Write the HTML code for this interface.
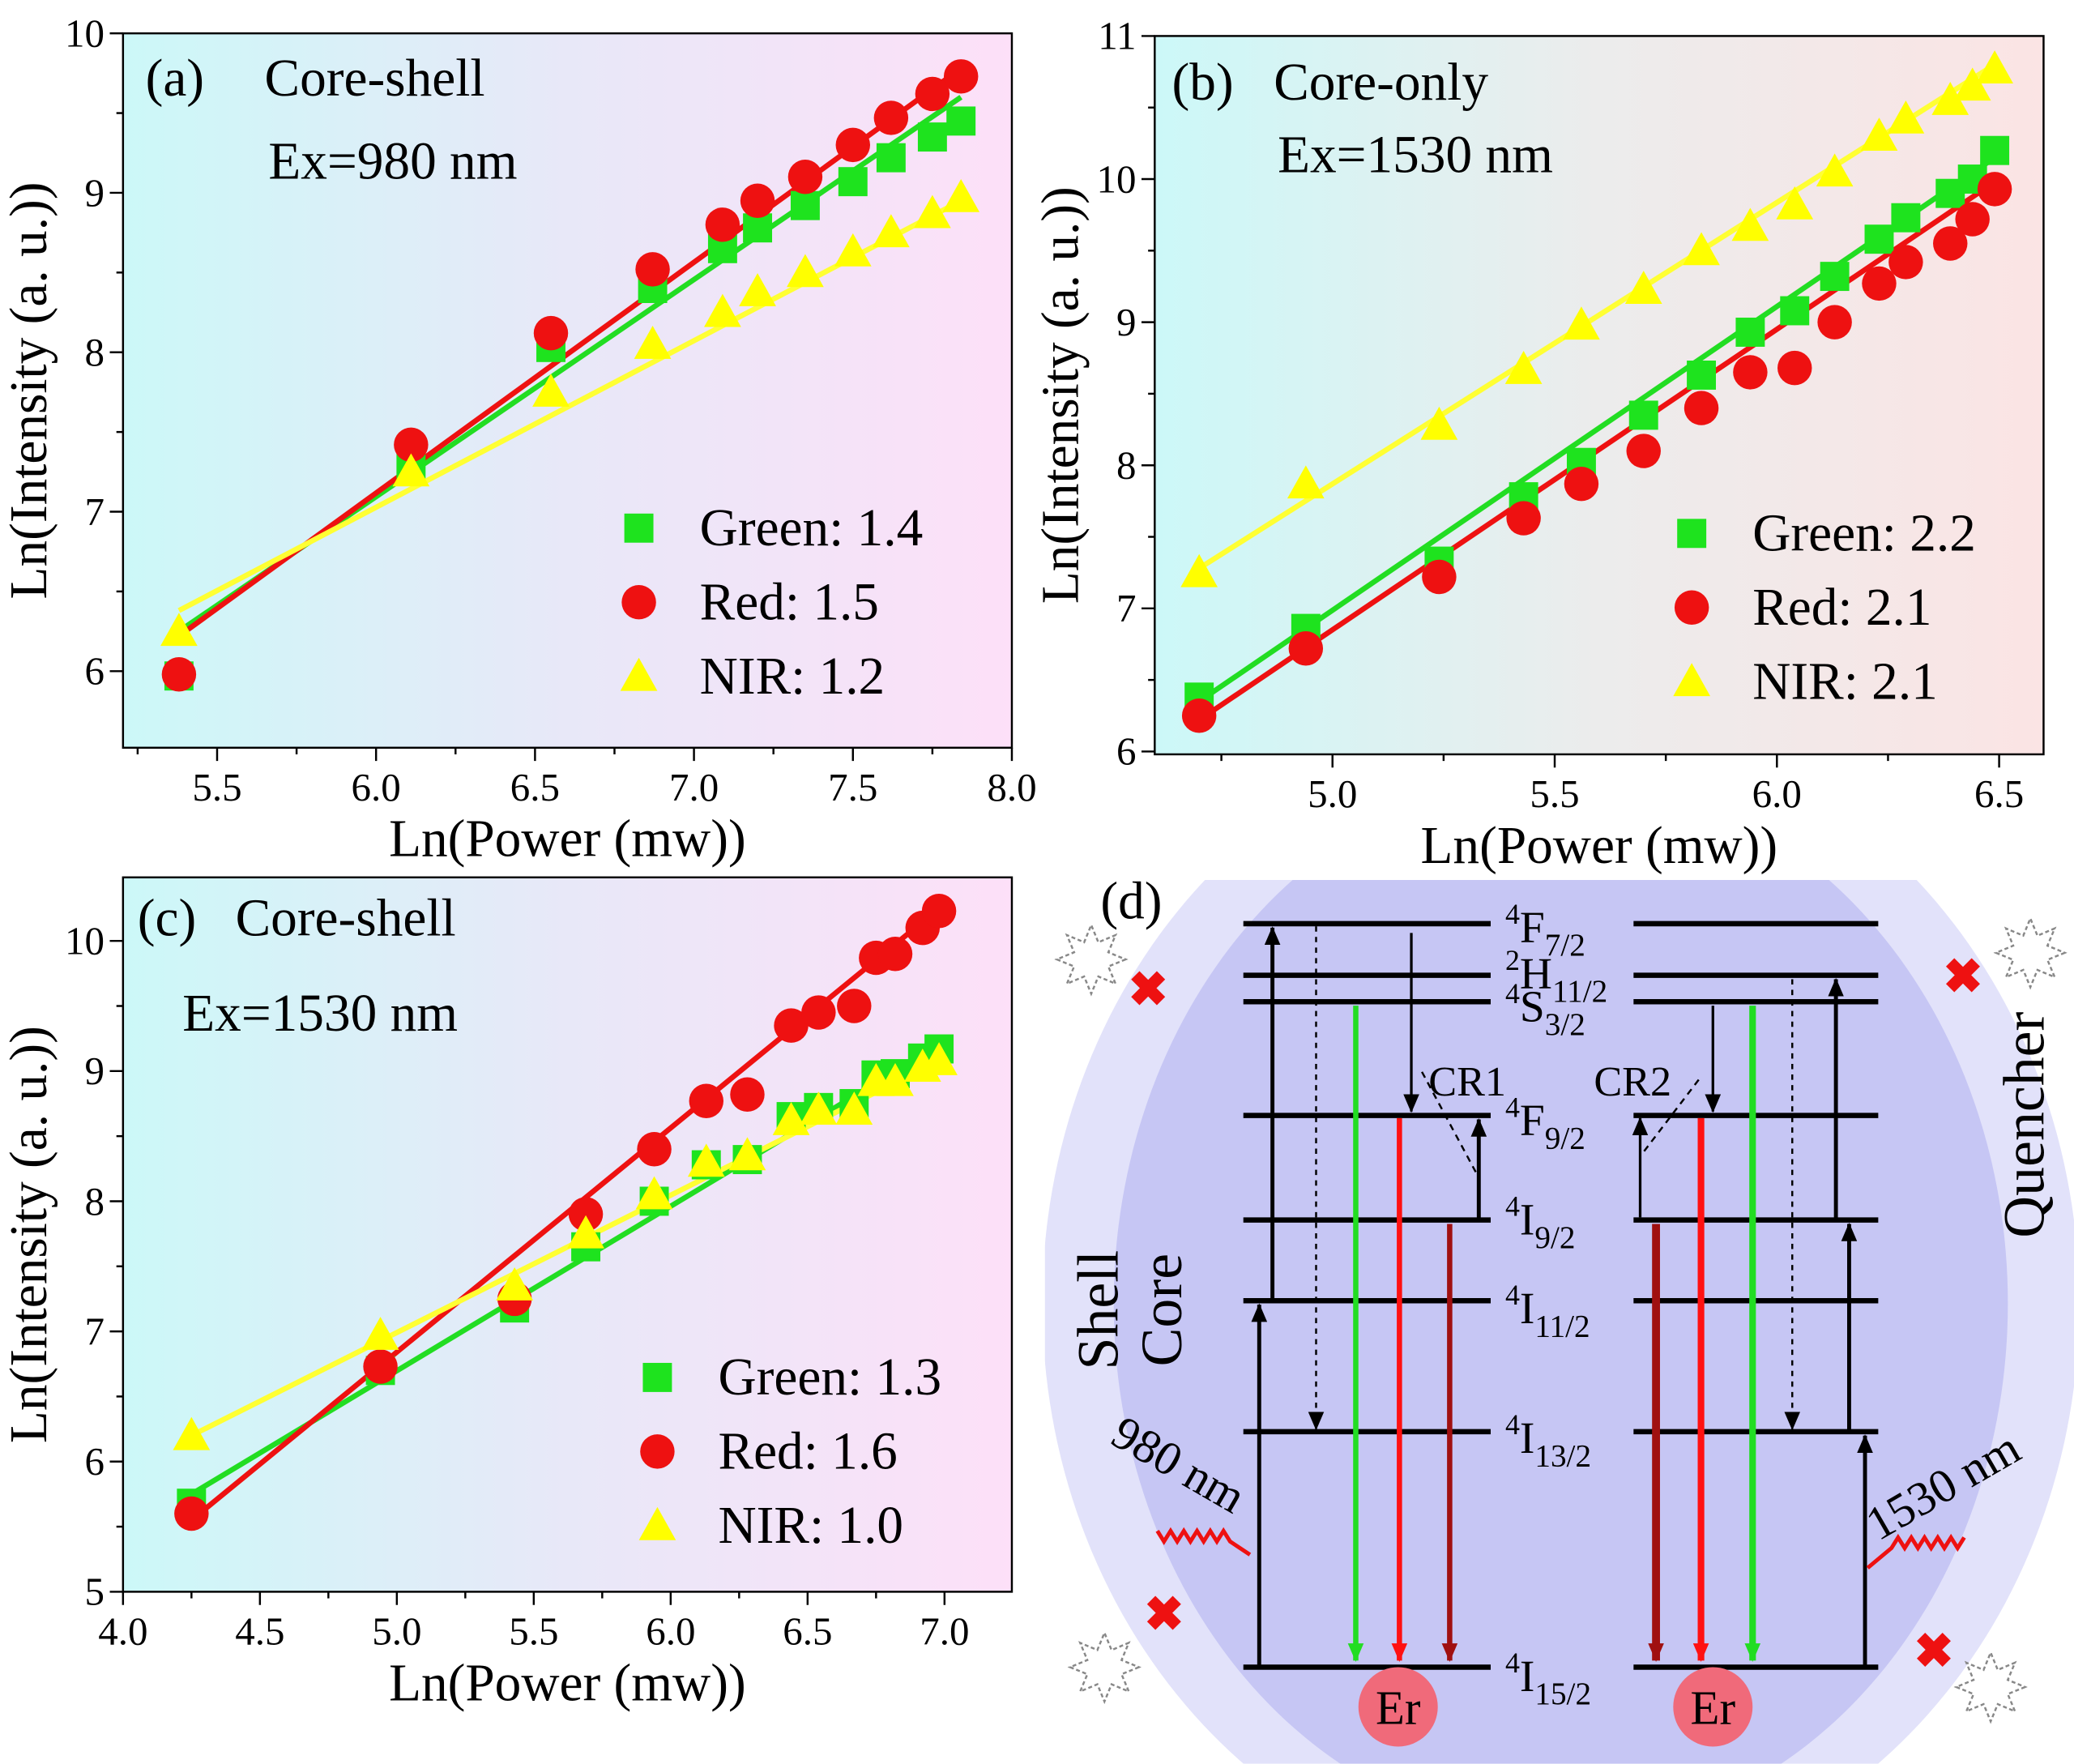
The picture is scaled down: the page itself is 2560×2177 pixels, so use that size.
<!DOCTYPE html>
<html><head><meta charset="utf-8">
<style>
html,body{margin:0;padding:0;background:#fff;width:2560px;height:2177px;overflow:hidden;}
svg{display:block;font-family:"Liberation Serif",serif;}
text{font-family:"Liberation Serif",serif;}
</style></head>
<body>
<svg id="fig" width="2560" height="2177" viewBox="0 0 1568 1333" font-family="Liberation Serif, serif" xmlns="http://www.w3.org/2000/svg" style="width:2560px;height:2177px;">
<defs>
<linearGradient id="gA" x1="0" x2="1" y1="0" y2="0"><stop offset="0" stop-color="#ccf8f8"/><stop offset="0.5" stop-color="#e8e8f8"/><stop offset="1" stop-color="#fde0f8"/></linearGradient>
<linearGradient id="gB" x1="0" x2="1" y1="0" y2="0"><stop offset="0" stop-color="#ccf8f8"/><stop offset="0.5" stop-color="#ececec"/><stop offset="1" stop-color="#fbe4e4"/></linearGradient>
<clipPath id="clipD"><rect x="790" y="665" width="778" height="668"/></clipPath>
<marker id="ah" markerUnits="userSpaceOnUse" markerWidth="14" markerHeight="12" refX="13" refY="6" orient="auto"><path d="M0,0 L14,6 L0,12 z" fill="context-stroke"/></marker>
</defs>
<g id="charts"></g>
<g id="diagram"></g>
</svg>
<script>
// ---------- data ----------
const aX=[5.38,6.11,6.55,6.87,7.09,7.20,7.35,7.50,7.62,7.75,7.84];
const aRed=[5.98,7.42,8.12,8.52,8.80,8.95,9.10,9.30,9.47,9.62,9.73];
const aGreen=[5.97,7.30,8.03,8.40,8.65,8.78,8.92,9.07,9.22,9.35,9.45];
const aNIR=[6.25,7.25,7.75,8.05,8.25,8.38,8.50,8.63,8.75,8.87,8.97];
const aFitX=[5.38,7.84];
const aFitRed=[6.22,9.78];
const aFitGreen=[6.25,9.60];
const aFitNIR=[6.38,8.95];
const aXTicks=[5.5,6.0,6.5,7.0,7.5,8.0];
const aYTicks=[6,7,8,9,10];

const bX=[4.70,4.94,5.24,5.43,5.56,5.70,5.83,5.94,6.04,6.13,6.23,6.29,6.39,6.44,6.49];
const bGreen=[6.38,6.86,7.33,7.78,8.02,8.35,8.63,8.93,9.08,9.32,9.58,9.73,9.90,10.00,10.20];
const bRed=[6.25,6.72,7.22,7.63,7.87,8.10,8.40,8.65,8.68,9.00,9.27,9.42,9.55,9.72,9.93];
const bNIR=[7.25,7.87,8.28,8.67,8.98,9.23,9.50,9.67,9.82,10.05,10.30,10.42,10.55,10.65,10.77];
const bFitX=[4.70,6.49];
const bFitGreen=[6.35,10.15];
const bFitRed=[6.22,9.98];
const bFitNIR=[7.28,10.80];
const bXTicks=[5.0,5.5,6.0,6.5];
const bYTicks=[6,7,8,9,10,11];

const cX=[4.25,4.94,5.43,5.69,5.94,6.13,6.28,6.44,6.54,6.67,6.75,6.82,6.92,6.98];
const cRed=[5.60,6.73,7.25,7.90,8.40,8.77,8.82,9.35,9.45,9.50,9.87,9.90,10.10,10.23];
const cGreen=[5.68,6.70,7.18,7.65,8.00,8.28,8.32,8.65,8.72,8.75,8.97,8.98,9.10,9.17];
const cNIR=[6.20,6.97,7.35,7.75,8.05,8.30,8.35,8.62,8.70,8.70,8.92,8.92,9.03,9.08];
const cFitX=[4.25,6.98];
const cFitRed=[5.55,10.25];
const cFitGreen=[5.75,9.20];
const cFitNIR=[6.20,9.08];
const cXTicks=[4.0,4.5,5.0,5.5,6.0,6.5,7.0];
const cYTicks=[5,6,7,8,9,10];

const NS="http://www.w3.org/2000/svg";
function mk(parent,tag,attrs,text){const e=document.createElementNS(NS,tag);for(const k in attrs)e.setAttribute(k,attrs[k]);if(text!==undefined)e.textContent=text;parent.appendChild(e);return e;}
const charts=document.getElementById('charts');

function panel(id,box,xr,yr,xT,yT,xDec,grad,series,fits,legend,titles){
  const g=mk(charts,'g',{});
  
  
  const [L,T,R,B]=box;
  const sx=v=>L+(v-xr[0])/(xr[1]-xr[0])*(R-L);
  const sy=v=>B-(v-yr[0])/(yr[1]-yr[0])*(B-T);
  const bg=mk(g,'rect',{x:L,y:T,width:R-L,height:B-T,fill:grad});
  
  
  xT.forEach(v=>{const x=sx(v);
    mk(g,'line',{x1:x,x2:x,y1:B,y2:B+10,stroke:'#000','stroke-width':1.5});
    const t=mk(g,'text',{x:x,y:B+40,'font-size':30,'text-anchor':'middle'},v.toFixed(xDec));
    
    
  });
  for(let i=0;i<xT.length-1;i++){const x=sx((xT[i]+xT[i+1])/2);mk(g,'line',{x1:x,x2:x,y1:B,y2:B+5,stroke:'#000','stroke-width':1.5});}
  {const x=sx(xT[0]-(xT[1]-xT[0])/2); if(x>L) mk(g,'line',{x1:x,x2:x,y1:B,y2:B+5,stroke:'#000','stroke-width':1.5});}
  yT.forEach(v=>{const y=sy(v);
    mk(g,'line',{x1:L-10,x2:L,y1:y,y2:y,stroke:'#000','stroke-width':1.5});
    const t=mk(g,'text',{x:L-14,y:y+10,'font-size':30,'text-anchor':'end'},String(v));
    
    
  });
  for(let i=0;i<yT.length-1;i++){const y=sy((yT[i]+yT[i+1])/2);mk(g,'line',{x1:L-5,x2:L,y1:y,y2:y,stroke:'#000','stroke-width':1.5});}
  mk(g,'rect',{x:L,y:T,width:R-L,height:B-T,fill:'none',stroke:'#000','stroke-width':1.5});
  fits.forEach(f=>{
    const l=mk(g,'line',{x1:sx(f.x[0]),y1:sy(f.y[0]),x2:sx(f.x[1]),y2:sy(f.y[1]),stroke:f.c,'stroke-width':4});
    
    
  });
  series.forEach(s=>{
    s.x.forEach((xv,i)=>{const x=sx(xv),y=sy(s.y[i]);let m;
      if(s.m==='sq') m=mk(g,'rect',{x:x-11,y:y-11,width:22,height:22,fill:'#1ee31e'});
      else if(s.m==='ci') m=mk(g,'circle',{cx:x,cy:y,r:13,fill:'#ee1111'});
      else m=mk(g,'polygon',{points:`${x},${y-14} ${x-14},${y+11} ${x+14},${y+11}`,fill:'#ffff00'});
      
      
    });
  });
  legend.items.forEach((it,i)=>{const y=legend.y+i*legend.dy;const x=legend.x;let m;
    if(it.m==='sq') m=mk(g,'rect',{x:x-11,y:y-11,width:22,height:22,fill:'#1ee31e'});
    else if(it.m==='ci') m=mk(g,'circle',{cx:x,cy:y,r:13,fill:'#ee1111'});
    else m=mk(g,'polygon',{points:`${x},${y-14} ${x-14},${y+11} ${x+14},${y+11}`,fill:'#ffff00'});
    
    
    const t=mk(g,'text',{x:x+46,y:y+13,'font-size':40},it.t);
    
    
  });
  titles.forEach(tt=>{const t=mk(g,'text',{x:tt[0],y:tt[1],'font-size':tt[3]||40},tt[2]);
    
    });
  const xt=mk(g,'text',{x:(L+R)/2,y:B+82,'font-size':40,'text-anchor':'middle'},'Ln(Power (mw))');
  
  
  const cy=(T+B)/2;
  const yt=mk(g,'text',{x:L-58,y:cy,'font-size':40,'text-anchor':'middle',transform:`rotate(-90 ${L-58} ${cy})`},'Ln(Intensity (a. u.))');
  
  
}

panel('a',[93,25,765,565],[5.204,8.0],[5.52,10],aXTicks,aYTicks,1,'url(#gA)',
 [{x:aX,y:aGreen,m:'sq',n:'green'},{x:aX,y:aRed,m:'ci',n:'red'},{x:aX,y:aNIR,m:'tr',n:'nir'}],
 [{x:aFitX,y:aFitGreen,c:'#22dd22',n:'green'},{x:aFitX,y:aFitRed,c:'#ee1111',n:'red'},{x:aFitX,y:aFitNIR,c:'#ffff33',n:'nir'}],
 {x:483,y:399,dy:56,items:[{m:'sq',t:'Green: 1.4'},{m:'ci',t:'Red: 1.5'},{m:'tr',t:'NIR: 1.2'}]},
 [[110,72,'(a)'],[200,72,'Core-shell'],[203,135,'Ex=980 nm']]);

panel('b',[873,27,1545,570],[4.6,6.6],[5.98,11],bXTicks,bYTicks,1,'url(#gB)',
 [{x:bX,y:bGreen,m:'sq',n:'green'},{x:bX,y:bRed,m:'ci',n:'red'},{x:bX,y:bNIR,m:'tr',n:'nir'}],
 [{x:bFitX,y:bFitGreen,c:'#22dd22',n:'green'},{x:bFitX,y:bFitRed,c:'#ee1111',n:'red'},{x:bFitX,y:bFitNIR,c:'#ffff33',n:'nir'}],
 {x:1279,y:403,dy:56,items:[{m:'sq',t:'Green: 2.2'},{m:'ci',t:'Red: 2.1'},{m:'tr',t:'NIR: 2.1'}]},
 [[886,75,'(b)'],[963,75,'Core-only'],[966,130,'Ex=1530 nm']]);

panel('c',[93,663,765,1203],[4.0,7.246],[5,10.488],cXTicks,cYTicks,1,'url(#gA)',
 [{x:cX,y:cGreen,m:'sq',n:'green'},{x:cX,y:cRed,m:'ci',n:'red'},{x:cX,y:cNIR,m:'tr',n:'nir'}],
 [{x:cFitX,y:cFitGreen,c:'#22dd22',n:'green'},{x:cFitX,y:cFitRed,c:'#ee1111',n:'red'},{x:cFitX,y:cFitNIR,c:'#ffff33',n:'nir'}],
 {x:497,y:1041,dy:56,items:[{m:'sq',t:'Green: 1.3'},{m:'ci',t:'Red: 1.6'},{m:'tr',t:'NIR: 1.0'}]},
 [[104,707,'(c)'],[178,707,'Core-shell'],[138,779,'Ex=1530 nm']]);

// ---------- diagram (d) ----------
const D=document.getElementById('diagram');
const dg=mk(D,'g',{'clip-path':'url(#clipD)'});
const outer=mk(dg,'ellipse',{cx:1180,cy:985,rx:392,ry:440,fill:'#e2e2fa'});


const inner=mk(dg,'ellipse',{cx:1180,cy:985,rx:338,ry:400,fill:'#c6c6f4'});


const levelNames=[['4','F','7/2',698],['2','H','11/2',737],['4','S','3/2',757],['4','F','9/2',843],['4','I','9/2',922],['4','I','11/2',983],['4','I','13/2',1082],['4','I','15/2',1260]];
levelNames.forEach((lv,i)=>{
  const y=lv[3];
  const a=mk(D,'line',{x1:940,x2:1127,y1:y,y2:y,stroke:'#000','stroke-width':4});
  
  
  const b=mk(D,'line',{x1:1235,x2:1420,y1:y,y2:y,stroke:'#000','stroke-width':4});
  
  
  const ly=[712,747,772,858,933,1000,1098,1278][i];
  const t=mk(D,'text',{x:1138,y:ly,'font-size':34});
  
  
  mk(t,'tspan',{'font-size':22,dy:-14},lv[0]);
  mk(t,'tspan',{dy:14},lv[1]);
  mk(t,'tspan',{'font-size':24,dy:10},lv[2]);
});
function arr(x1,y1,x2,y2,c,w,dash,name){const l=mk(D,'line',{x1,y1,x2,y2,stroke:c,'stroke-width':w,'marker-end':'url(#ah)'});if(dash)l.setAttribute('stroke-dasharray',dash);return l;}
arr(952,1260,952,986,'#000',3,null,'excitation-arrow');
arr(962,983,962,701,'#000',3,null,'excitation-arrow');
arr(1118,922,1118,846,'#000',3,null,'excitation-arrow');
arr(995,700,995,1080,'#000',1.5,'4,4','nonrad-decay');
arr(1067,705,1067,840,'#000',2,null,'cr1-arrow');
mk(D,'line',{x1:1075,y1:810,x2:1118,y2:890,stroke:'#000','stroke-width':1.5,'stroke-dasharray':'5,4'});
arr(1025,760,1025,1255,'#22dd22',4,null,'green-emission');
arr(1058,845,1058,1255,'#ff1111',4,null,'red-emission');
arr(1096,925,1096,1255,'#a01010',4,null,'nir-emission');
arr(1410,1260,1410,1085,'#000',3,null,'excitation-arrow');
arr(1398,1082,1398,925,'#000',3,null,'excitation-arrow');
arr(1388,922,1388,740,'#000',3,null,'excitation-arrow');
arr(1355,740,1355,1080,'#000',1.5,'4,4','nonrad-decay');
arr(1295,760,1295,840,'#000',2,null,'cr2-arrow');
arr(1240,920,1240,845,'#000',2,null,'cr2-arrow');
mk(D,'line',{x1:1243,y1:870,x2:1285,y2:815,stroke:'#000','stroke-width':1.5,'stroke-dasharray':'5,4'});
arr(1252,925,1252,1255,'#a01010',6,null,'nir-emission');
arr(1286,845,1286,1255,'#ff1111',5,null,'red-emission');
arr(1325,760,1325,1255,'#22dd22',5,null,'green-emission');
[['CR1',1080,828],['CR2',1205,828]].forEach(c=>{const t=mk(D,'text',{x:c[1],y:c[2],'font-size':32},c[0]);});
[1057,1295].forEach(x=>{const c=mk(D,'circle',{cx:x,cy:1290,r:30,fill:'#f06a7a'});
 const t=mk(D,'text',{x:x,y:1303,'font-size':36,'text-anchor':'middle'},'Er');});
mk(D,'path',{d:'M945,1175 L930,1165 l-5,-8 l-5,8 l-5,-8 l-5,8 l-5,-8 l-5,8 l-5,-8 l-5,8 l-5,-8 l-5,8 l-5,-8',fill:'none',stroke:'#ee1111','stroke-width':3});
mk(D,'path',{d:'M1412,1185 L1430,1170 l5,-8 l5,8 l5,-8 l5,8 l5,-8 l5,8 l5,-8 l5,8 l5,-8 l5,8 l5,-8',fill:'none',stroke:'#ee1111','stroke-width':3});
[['980 nm',838,1090,30],['1530 nm',1420,1165,-30]].forEach(w=>{const t=mk(D,'text',{x:w[1],y:w[2],'font-size':36,transform:`rotate(${w[3]} ${w[1]} ${w[2]})`},w[0]);});
[['Shell',845,990],['Core',893,990],['Quencher',1545,850]].forEach(w=>{const t=mk(D,'text',{x:w[1],y:w[2],'font-size':44,'text-anchor':'middle',transform:`rotate(-90 ${w[1]} ${w[2]})`},w[0]);});
const dl=mk(D,'text',{x:832,y:694,'font-size':40},'(d)');
[[825,725],[1535,720],[835,1260],[1505,1275]].forEach(q=>{
 let pts='';for(let i=0;i<16;i++){const a=i*Math.PI/8,r=i%2?14:26;pts+=(q[0]+r*Math.cos(a))+','+(q[1]+r*Math.sin(a))+' ';}
 const p=mk(D,'polygon',{points:pts,fill:'#fff',stroke:'#888','stroke-width':1.5,'stroke-dasharray':'3,2'});
 
});
[[868,748],[1484,738],[880,1220],[1462,1248]].forEach(q=>{const t=mk(D,'text',{x:q[0],y:q[1]+12,'font-size':36,'text-anchor':'middle',fill:'#ee1111','font-weight':'bold'},'✖');});
</script>
</body></html>
